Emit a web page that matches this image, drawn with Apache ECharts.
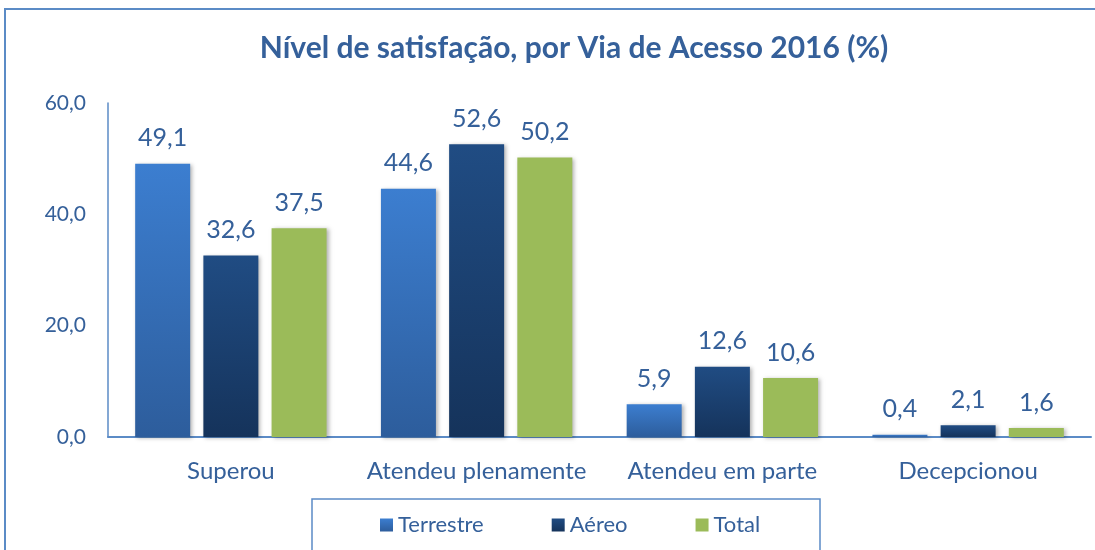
<!DOCTYPE html>
<html>
<head>
<meta charset="utf-8">
<script src="https://cdn.jsdelivr.net/npm/echarts@6/dist/echarts.min.js"></script>
<style>
  html, body { margin: 0; padding: 0; background: #fff; }
  #chart { width: 1095px; height: 550px; }
</style>
</head>
<body>
<div id="chart"></div>
<script>
const categories = ['Superou', 'Atendeu plenamente', 'Atendeu em parte', 'Decepcionou']
const terrestre = [49.1, 44.6, 5.9, 0.4]
const aereo = [32.6, 52.6, 12.6, 2.1]
const total = [37.5, 50.2, 10.6, 1.6]
const yTicks = [0, 20, 40, 60]

const textColor = '#35609A'
const fontFamily = 'Lato, "Open Sans", sans-serif'
const comma = v => v.toFixed(1).replace('.', ',')

const grad = (top, bottom) => new echarts.graphic.LinearGradient(0, 0, 0, 1, [
  { offset: 0, color: top },
  { offset: 1, color: bottom }
])

const barStyle = color => ({
  color: color,
  shadowColor: 'rgba(0,0,0,0.3)',
  shadowBlur: 4,
  shadowOffsetX: 2,
  shadowOffsetY: 1
})

const label = {
  show: true,
  position: 'top',
  distance: 13,
  color: textColor,
  fontSize: 25,
  fontFamily: fontFamily,
  formatter: p => comma(p.value)
}

const chart = echarts.init(document.getElementById('chart'))
chart.setOption({
  animation: false,
  title: {
    text: 'Nível de satisfação, por Via de Acesso 2016 (%)',
    left: 569,
    top: 28,
    textAlign: 'center',
    textStyle: { color: textColor, fontSize: 30, fontWeight: 'bold', fontFamily: fontFamily }
  },
  graphic: [{
    type: 'rect',
    shape: { x: 5, y: 9, width: 1200, height: 600 },
    style: { fill: 'none', stroke: '#5B8BC6', lineWidth: 2 }
  }, {
    type: 'rect',
    shape: { x: 312, y: 499, width: 508, height: 80 },
    style: { fill: 'none', stroke: '#5B8BC6', lineWidth: 1.5 }
  }],
  legend: {
    left: 380,
    top: 514,
    padding: 0,
    itemWidth: 13,
    itemHeight: 13,
    itemGap: 68,
    icon: 'rect',
    textStyle: { color: textColor, fontSize: 22, fontFamily: fontFamily, padding: [0, 0, 0, 0] },
    data: ['Terrestre', 'Aéreo', 'Total']
  },
  grid: { left: 108, right: 4, top: 103, bottom: 113 },
  xAxis: {
    type: 'category',
    data: categories,
    axisLine: { lineStyle: { color: '#5B8BC6', width: 2 } },
    axisTick: { show: false },
    axisLabel: { color: textColor, fontSize: 24, fontFamily: fontFamily, margin: 22, interval: 0 }
  },
  yAxis: {
    type: 'value',
    min: yTicks[0],
    max: yTicks[yTicks.length - 1],
    interval: 20,
    axisLine: { show: true, lineStyle: { color: '#5B8BC6', width: 1.5 } },
    axisTick: { show: false },
    splitLine: { show: false },
    axisLabel: { color: textColor, fontSize: 21, fontFamily: fontFamily, margin: 22, formatter: v => comma(v) }
  },
  series: [{
    name: 'Terrestre',
    type: 'bar',
    data: terrestre,
    barWidth: 55,
    barGap: '24%',
    itemStyle: barStyle(grad('#3C7ED0', '#2D5D9C')),
    label: label
  }, {
    name: 'Aéreo',
    type: 'bar',
    data: aereo,
    barWidth: 55,
    barGap: '24%',
    itemStyle: barStyle(grad('#204C83', '#15335B')),
    label: label
  }, {
    name: 'Total',
    type: 'bar',
    data: total,
    barWidth: 55,
    barGap: '24%',
    itemStyle: barStyle('#9BBB59'),
    label: label
  }]
})
</script>
</body>
</html>
